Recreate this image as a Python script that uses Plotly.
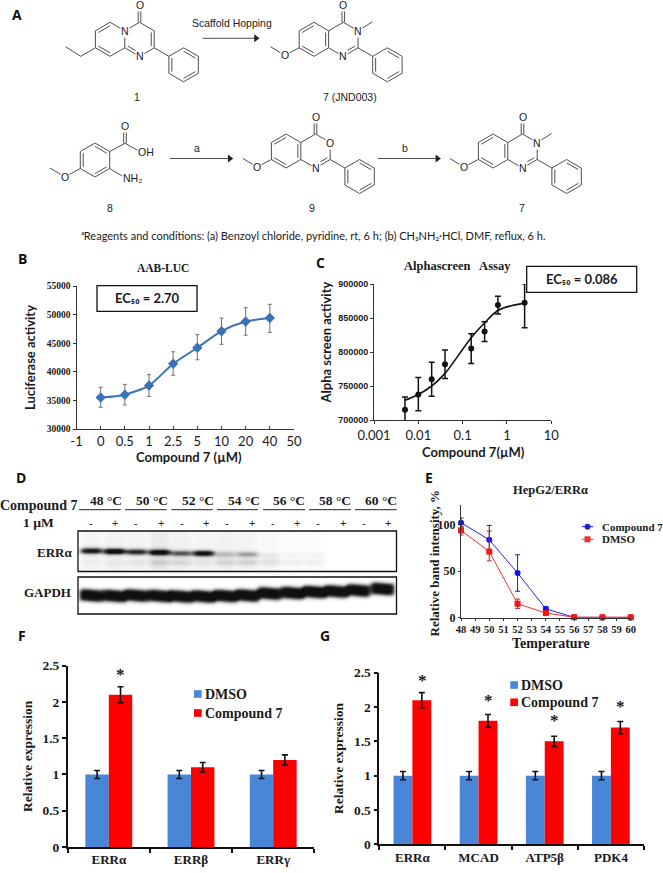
import numpy as np
import plotly.graph_objects as go

W, H = 663, 873
SERIF = "Liberation Serif"
SANS = "Lato"
ARIAL = "Liberation Sans"

# ---------- panel B ----------
B_TICKS = ["-1", "0", "0.5", "1", "2.5", "5", "10", "20", "40", "50"]
B_DOSE = ["0", "0.5", "1", "2.5", "5", "10", "20", "40"]
B_VALUES = [35500, 36000, 37600, 41400, 44200, 47100, 48800, 49400]
B_ERR_UP = [1800, 1800, 1900, 2100, 2300, 2300, 2400, 2400]
B_ERR_DOWN = [1700, 1800, 1900, 2000, 2100, 2300, 2400, 2500]

# ---------- panel C ----------
C_DOSE = [0.005, 0.01, 0.02, 0.04, 0.156, 0.313, 0.625, 2.5]
C_VALUES = [715000, 737500, 760000, 782000, 805000, 830000, 869000, 872500]
C_ERR_UP = [19000, 25000, 25000, 21000, 22000, 14500, 13000, 28000]
C_ERR_DOWN = [19000, 24000, 25000, 21000, 22000, 14500, 13000, 37000]
C_FIT_DOSE = [0.005, 0.01, 0.02, 0.04, 0.08, 0.156, 0.313, 0.625, 1.25, 2.5]
C_FIT = [729000, 737500, 750000, 768600, 795000, 821000, 843000, 861000, 868000, 871500]

# ---------- panel E ----------
E_TEMP = [48, 50, 52, 54, 56, 58, 60]
E_COMPOUND = [102, 83.6, 48, 9.5, 0.4, 0.3, 0.3]
E_COMPOUND_UP = [5, 15.5, 19.6, 2, 0.5, 0.3, 0.3]
E_COMPOUND_DOWN = [4.5, 13, 19.6, 2, 0.4, 0.3, 0.3]
E_DMSO = [93.8, 71, 15, 5, 0.5, 0.5, 0.5]
E_DMSO_UP = [4, 22, 5, 1, 0.5, 0.5, 0.5]
E_DMSO_DOWN = [5, 10, 5, 1, 0.5, 0.5, 0.5]

# ---------- panels F and G ----------
F_GENES = ["ERRα", "ERRβ", "ERRγ"]
F_DMSO = [1, 1, 1]
F_DMSO_ERR = [0.055, 0.055, 0.055]
F_COMPOUND = [2.1, 1.1, 1.2]
F_COMPOUND_ERR = [0.11, 0.065, 0.07]
G_GENES = ["ERRα", "MCAD", "ATP5β", "PDK4"]
G_DMSO = [1, 1, 1, 1]
G_DMSO_ERR = [0.06, 0.06, 0.06, 0.06]
G_COMPOUND = [2.1, 1.8, 1.5, 1.7]
G_COMPOUND_ERR = [0.11, 0.09, 0.075, 0.09]

# ---------- panel D (western blot, relative band darkness per lane) ----------
BLOT_LANES = [91, 114, 136, 159, 180.7, 203, 225, 247, 269, 292, 314, 336, 358, 382]
ERR_MAIN = [.85, 1.0, .75, .95, .55, .9, .22, .32, .07, .03, .03, 0, 0, 0]
ERR_MAIN_Y = [550.5, 551, 551.5, 552, 553, 553, 554, 554, 555, 555, 555, 555, 555, 555]
ERR_LOWER = [.03, .04, .07, .14, .12, .07, .13, .15, .1, .05, .05, 0, 0, 0]
ERR_SMEAR = [.05, .06, .05, .09, .06, .05, .06, .05, .03, .015, .015, 0, 0, 0]
GAPDH_Y = [595, 595.5, 595, 595.5, 596, 596, 595.5, 595, 593, 592.5, 591.5, 591, 590, 588.5]
TEMP_LABELS = ["48 °C", "50 °C", "52 °C", "54 °C", "56 °C", "58 °C", "60 °C"]

BLUE = "#4a86d8"
RED = "#ff0000"
fig = go.Figure()

def dom_x(a, b):
    return [a / W, b / W]

def dom_y(top, bottom):
    return [1 - bottom / H, 1 - top / H]

def text(s, x, y, size=12, family=SERIF, bold=True, anchor="center", angle=0, color="#1a1a1a", bg=None):
    fig.add_annotation(
        x=x, y=y, xref="x6", yref="y6", text=f"<b>{s}</b>" if bold else s, showarrow=False,
        xanchor=anchor, yanchor="middle", textangle=angle, borderpad=0,
        bgcolor=bg, font=dict(size=size, family=family, color=color),
    )

# --- chart traces ---
fig.add_trace(go.Scatter(
    x=B_DOSE, y=B_VALUES, xaxis="x", yaxis="y", mode="lines+markers",
    line=dict(color="#3a72b8", width=2, shape="spline", smoothing=0.7),
    marker=dict(symbol="diamond", size=8, color="#3a72b8"),
    error_y=dict(type="data", symmetric=False, array=B_ERR_UP, arrayminus=B_ERR_DOWN,
                 color="#707070", thickness=1, width=2),
    showlegend=False,
))
fig.add_trace(go.Scatter(
    x=C_FIT_DOSE, y=C_FIT, xaxis="x2", yaxis="y2", mode="lines",
    line=dict(color="#111", width=1.6, shape="spline"), showlegend=False,
))
fig.add_trace(go.Scatter(
    x=C_DOSE, y=C_VALUES, xaxis="x2", yaxis="y2", mode="markers",
    marker=dict(size=6, color="#111"),
    error_y=dict(type="data", symmetric=False, array=C_ERR_UP, arrayminus=C_ERR_DOWN,
                 color="#111", thickness=1.5, width=3),
    showlegend=False,
))
fig.add_trace(go.Scatter(
    x=E_TEMP, y=E_COMPOUND, xaxis="x3", yaxis="y3", mode="lines+markers", cliponaxis=False,
    line=dict(color="#2222dd", width=1), marker=dict(size=6, color="#1414ee"),
    error_y=dict(type="data", symmetric=False, array=E_COMPOUND_UP, arrayminus=E_COMPOUND_DOWN,
                 color="#22229a", thickness=1, width=2.5),
    showlegend=False,
))
fig.add_trace(go.Scatter(
    x=E_TEMP, y=E_DMSO, xaxis="x3", yaxis="y3", mode="lines+markers", cliponaxis=False,
    line=dict(color="#ee3333", width=1), marker=dict(symbol="square", size=6, color="#ff1111"),
    error_y=dict(type="data", symmetric=False, array=E_DMSO_UP, arrayminus=E_DMSO_DOWN,
                 color="#cc2222", thickness=1, width=2.5),
    showlegend=False,
))
for genes, dm, dme, cp, cpe, xa, ya in [
    (F_GENES, F_DMSO, F_DMSO_ERR, F_COMPOUND, F_COMPOUND_ERR, "x4", "y4"),
    (G_GENES, G_DMSO, G_DMSO_ERR, G_COMPOUND, G_COMPOUND_ERR, "x5", "y5"),
]:
    fig.add_trace(go.Bar(x=genes, y=dm, xaxis=xa, yaxis=ya, name="DMSO", marker_color=BLUE, marker_line_width=0,
                         error_y=dict(type="data", array=dme, color="#111", thickness=1.6, width=3), showlegend=False))
    fig.add_trace(go.Bar(x=genes, y=cp, xaxis=xa, yaxis=ya, name="Compound 7", marker_color=RED, marker_line_width=0,
                         error_y=dict(type="data", array=cpe, color="#111", thickness=1.6, width=3), showlegend=False))

# --- western blot as an image on the canvas axes ---
gx = np.arange(78, 397)
gy = np.arange(531, 615)
X, Y = np.meshgrid(gx, gy)
Z = np.zeros_like(X, dtype=float)
for i, c in enumerate(BLOT_LANES):
    lane = np.exp(-((X - c) / 11) ** 4)
    err = (Y < 572)
    Z += err * lane * ERR_SMEAR[i]
    Z += err * lane * ERR_MAIN[i] * np.exp(-((Y - ERR_MAIN_Y[i]) / 3.0) ** 2) * 1.1
    Z += err * lane * ERR_LOWER[i] * np.exp(-((Y - 562) / 3.5) ** 2)
    gap = (Y >= 577)
    wob = 0.5 * np.sin((X - c) / 5.0)
    Z += gap * np.exp(-((X - c) / 12) ** 6) * np.exp(-np.abs((Y - GAPDH_Y[i] - wob) / 6.2) ** 3.2) * 1.1
Z[(Y >= 572) & (Y < 577)] = 0
fig.add_trace(go.Heatmap(
    x=gx, y=gy, z=np.clip(Z, 0, 1), xaxis="x6", yaxis="y6", zmin=0, zmax=1, showscale=False, hoverinfo="skip",
    colorscale=[[0, "#ffffff"], [0.3, "#b8b8b8"], [0.7, "#444444"], [1, "#101010"]],
))

# --- chemical structures ---
BX, BY = [], []

def seg(a, b):
    BX.extend([a[0], b[0], None])
    BY.extend([a[1], b[1], None])

def dbl(a, b, c):
    t = 0.2
    seg((a[0] + (c[0] - a[0]) * t, a[1] + (c[1] - a[1]) * t), (b[0] + (c[0] - b[0]) * t, b[1] + (c[1] - b[1]) * t))

def hexv(cx, cy):
    dx, dy, r = 14.7, 8.5, 17
    return [(cx, cy - r), (cx + dx, cy - dy), (cx + dx, cy + dy), (cx, cy + r), (cx - dx, cy + dy), (cx - dx, cy - dy)]

def ring(v, skip=()):
    for k in range(6):
        if k not in skip:
            seg(v[k], v[(k + 1) % 6])

def phenyl(cx, cy):
    v = hexv(cx, cy)
    ring(v)
    for k in (0, 2, 4):
        dbl(v[k], v[(k + 1) % 6], (cx, cy))
    return v

def fused(cx, cy, kind):
    R, L = hexv(cx, cy), hexv(cx - 29.4, cy)
    ring(R)
    ring(L, skip=(1,))
    rc, lc = (cx, cy), (cx - 29.4, cy)
    dbl(L[0], L[5], lc)
    dbl(L[3], L[4], lc)
    dbl(R[3], R[4] if kind == "pyrido" else R[2], rc)
    if kind == "pyrido":
        dbl(R[1], R[2], rc)
    else:
        dbl(L[1], L[2], lc)
    # carbonyl
    seg((cx - 1.3, cy - 17), (cx - 1.3, cy - 33))
    seg((cx + 1.3, cy - 17), (cx + 1.3, cy - 33))
    text("O", cx, cy - 34.5, 10.5, ARIAL, False, bg="white")
    # phenyl
    seg(R[2], (cx + 29.4, cy + 17))
    phenyl(cx + 44.1, cy + 25.5)
    text("N", cx, cy + 17, 10.5, ARIAL, False, bg="white")
    if kind == "pyrido":
        text("N", R[5][0], R[5][1], 10.5, ARIAL, False, bg="white")
        p = (L[4][0] - 14.7, L[4][1] + 8.5)
        seg(L[4], p)
        seg(p, (p[0] - 15, p[1] - 9.5))
    else:
        o = (L[4][0] - 14.5, L[4][1] + 7.5)
        seg(L[4], o)
        seg(o, (o[0] - 14, o[1] - 8.5))
        text("O", o[0], o[1], 10.5, ARIAL, False, bg="white")
        if kind == "oxazinone":
            text("O", R[1][0], R[1][1], 10.5, ARIAL, False, bg="white")
        else:
            seg(R[1], (R[1][0] + 14.4, R[1][1] - 9))
            text("N", R[1][0], R[1][1], 10.5, ARIAL, False, bg="white")

for cx, cy, kind in [(139.5, 39.3, "pyrido"), (343.3, 39.3, "quinazolinone"),
                     (315.5, 151, "oxazinone"), (522.5, 151, "quinazolinone")]:
    fused(cx, cy, kind)

v8 = hexv(95, 160)
ring(v8)
for k in (0, 2, 4):
    dbl(v8[k], v8[(k + 1) % 6], (95, 160))
seg(v8[4], (65, 177))
seg((65, 177), (50, 168))
seg(v8[1], (125, 143.3))
seg((123.7, 143.3), (123.7, 128))
seg((126.3, 143.3), (126.3, 128))
seg((125, 143.3), (139, 151))
seg(v8[2], (122, 176))

# reaction arrows
ARROWS = [(202.7, 256, 38.3), (170, 229.7, 158.5), (378, 437.4, 158.5)]
for x0, x1, y in ARROWS:
    seg((x0, y), (x1, y))

fig.add_trace(go.Scatter(x=BX, y=BY, xaxis="x6", yaxis="y6", mode="lines", hoverinfo="skip",
                         line=dict(color="#3a3a3a", width=0.9), showlegend=False))
fig.add_trace(go.Scatter(x=[a[1] for a in ARROWS], y=[a[2] for a in ARROWS], xaxis="x6", yaxis="y6", mode="markers",
                         hoverinfo="skip", marker=dict(symbol="triangle-right", size=7, color="#222"), showlegend=False))

text("O", 65, 177, 10.5, ARIAL, False, bg="white")
text("O", 125, 125.5, 10.5, ARIAL, False, bg="white")
text("OH", 146, 151.5, 10.5, ARIAL, False, bg="white")
text("NH₂", 132.5, 178, 10.5, ARIAL, False, bg="white")

for s, x, y in [("1", 136.7, 97.3), ("7 (JND003)", 350, 97.3), ("8", 110, 208), ("9", 312, 208), ("7", 521.5, 208),
                ("Scaffold Hopping", 231.7, 23), ("a", 196.7, 148), ("b", 404.7, 148)]:
    text(s, x, y, 10.5, ARIAL, False)

text("<i>ᵃ</i>Reagents and conditions: (a) Benzoyl chloride, pyridine, rt, 6 h; (b) CH₃NH₂·HCl, DMF, reflux, 6 h.",
     313.5, 235.5, 11, SANS, False)

# --- panel letters ---
for s, x, y in [("A", 17, 14), ("B", 22, 258), ("C", 320, 262), ("D", 21, 477.5), ("E", 429, 477), ("F", 22, 635), ("G", 325, 635)]:
    text(s, x, y, 14, "Open Sans", True, color="#111")

# --- titles and the axis titles that sit off their axis centre ---
text("AAB-LUC", 163, 267.7, 11.5)
text("Alphascreen   Assay", 457.7, 266, 12.5)
text("HepG2/ERRα", 550, 490, 12.5)
text("Compound 7 (µM)", 189, 456.7, 13, SANS)
text("Alpha screen activity", 325, 342.5, 13, SANS, True, angle=-90)
text("Compound 7(µM)", 473, 451.7, 13, SANS)
text("Relative band intensity, %", 433.5, 563, 13, SERIF, True, angle=-90)
text("Temperature", 550.7, 643, 14)

# --- EC50 boxes ---
SHAPES = []
def rect(x0, y0, x1, y1, width=1.3, fill="rgba(0,0,0,0)", color="#111"):
    SHAPES.append(dict(type="rect", xref="x6", yref="y6", x0=x0, x1=x1, y0=y0, y1=y1,
                       line=dict(color=color, width=width), fillcolor=fill, layer="above"))

rect(97, 285.7, 197, 311.3, fill="white")
rect(526.7, 266.3, 636.7, 292.3, fill="white")
text("EC₅₀ = 2.70", 147, 298, 13, SANS)
text("EC₅₀ = 0.086", 581.7, 279, 13, SANS)

# --- blot header ---
rect(78, 531, 396.5, 571.5)
rect(78, 577, 396.5, 614)
text("Compound 7", 38.5, 505.7, 14)
text("1 µM", 38, 522.7, 13.5)
text("ERRα", 72.7, 552.3, 13, anchor="right")
text("GAPDH", 72, 592.7, 13, anchor="right")
for s, c, x0, x1 in zip(TEMP_LABELS, [106, 152, 197.7, 243.7, 289, 335, 380.7],
                        [79, 125, 171.3, 217, 263, 309, 355], [120.7, 166.7, 212.7, 258, 305, 351, 396.7]):
    text(s, c, 500, 13.5)
    SHAPES.append(dict(type="line", xref="x6", yref="y6", x0=x0, x1=x1, y0=509.7, y1=509.7, line=dict(color="#222", width=1)))
for k, x in enumerate([90.7, 115, 136, 160.7, 181.7, 206, 227, 252, 272.7, 297, 318, 343, 364, 388.3]):
    text("+" if k % 2 else "-", x, 522.5, 11, ARIAL, False)

# --- hand placed legends ---
LEGEND_E = [("Compound 7", 526.7, "#2222dd", "circle"), ("DMSO", 539.3, "#ee3333", "square")]
for s, y, col, sym in LEGEND_E:
    SHAPES.append(dict(type="line", xref="x6", yref="y6", x0=581.7, x1=593.3, y0=y, y1=y, line=dict(color=col, width=1)))
    fig.add_trace(go.Scatter(x=[587.5], y=[y], xaxis="x6", yaxis="y6", mode="markers", hoverinfo="skip",
                             marker=dict(symbol=sym, size=6, color=col), showlegend=False))
    text(s, 600.7, y, 11, anchor="left")
for lab, x, y, col, ts in [("DMSO", 194, 694, BLUE, 14), ("Compound 7", 194, 713, RED, 14),
                           ("DMSO", 510.3, 685, BLUE, 14), ("Compound 7", 510.3, 702.3, RED, 14)]:
    SHAPES.append(dict(type="rect", xref="x6", yref="y6", x0=x, x1=x + 7.7, y0=y - 3.8, y1=y + 3.8,
                       fillcolor=col, line=dict(width=0)))
    text(lab, x + 10, y, ts, anchor="left")
for x, y in [(120, 674), (422.3, 680), (488.3, 700.5), (554.3, 720.5), (620.7, 706.5)]:
    text("*", x, y, 17)

# --- layout ---
def tickfont(size, family=SERIF, bold=True):
    return dict(size=size, family=family, color="#1a1a1a", weight=700 if bold else 400)

def title(s, size, family, standoff):
    return dict(text=f"<b>{s}</b>", standoff=standoff, font=dict(size=size, family=family, color="#1a1a1a"))

AX = dict(automargin=False, showgrid=False, zeroline=False, showline=True, linecolor="#333", linewidth=1,
          ticks="outside", tickcolor="#333", ticklen=3)

layout = dict(
    template="none",
    width=W, height=H, margin=dict(l=0, r=0, t=0, b=0, pad=0), autosize=False,
    plot_bgcolor="rgba(0,0,0,0)", paper_bgcolor="white", showlegend=False, hovermode=False,
    barmode="group", bargap=0.43, bargroupgap=0, shapes=SHAPES,
    # B
    xaxis=dict(AX, domain=dom_x(76.5, 294), anchor="y", type="category", categoryorder="array", categoryarray=B_TICKS,
               tickvals=B_TICKS, range=[0, 9], ticks="inside", tickfont=tickfont(13, SANS, False)),
    yaxis=dict(AX, domain=dom_y(286, 429), anchor="x", range=[30000, 55000], dtick=5000, tickformat="d", tickfont=tickfont(9.5),
               title=title("Luciferase activity", 13, SANS, 8)),
    # C
    xaxis2=dict(AX, domain=dom_x(374, 551.3), anchor="y2", type="log", range=[-3, 1],
                tickvals=[0.001, 0.01, 0.1, 1, 10], ticktext=["0.001", "0.01", "0.1", "1", "10"],
                tickfont=tickfont(13, SANS, False)),
    yaxis2=dict(AX, domain=dom_y(284, 420), anchor="x2", range=[700000, 900000], dtick=50000, tickformat="d", tickfont=tickfont(9, ARIAL)),
    # E
    xaxis3=dict(AX, domain=dom_x(461, 630.7), anchor="y3", range=[48, 60], dtick=1, ticklen=2, tickfont=tickfont(10.5)),
    yaxis3=dict(AX, domain=dom_y(505, 617.7), anchor="x3", range=[0, 121], tickvals=[0, 50, 100], ticklen=2, tickfont=tickfont(12)),
    # F
    xaxis4=dict(AX, domain=dom_x(67.7, 314.3), anchor="y4", type="category", tickson="boundaries", ticklen=4, linewidth=1.5,
                linecolor="#111", tickcolor="#111", tickwidth=1.5, range=[-0.5, 2.5], tickfont=tickfont(13)),
    yaxis4=dict(AX, domain=dom_y(665.7, 847), anchor="x4", range=[0, 2.5], dtick=0.5, ticklen=4, linewidth=1.5,
                linecolor="#111", tickcolor="#111", tickwidth=1.5, tickformat="~g", tickfont=tickfont(13.5),
                title=title("Relative expression", 13.5, SERIF, 7)),
    # G
    xaxis5=dict(AX, domain=dom_x(379.3, 644), anchor="y5", type="category", tickson="boundaries", ticklen=4, linewidth=1.5,
                linecolor="#111", tickcolor="#111", tickwidth=1.5, range=[-0.5, 3.5], tickfont=tickfont(13)),
    yaxis5=dict(AX, domain=dom_y(672.7, 844.3), anchor="x5", range=[0, 2.5], dtick=0.5, ticklen=4, linewidth=1.5,
                linecolor="#111", tickcolor="#111", tickwidth=1.5, tickformat="~g", tickfont=tickfont(13.5),
                title=title("Relative expression", 13.5, SERIF, 7)),
    # full page canvas for the drawn structures, blot and labels
    xaxis6=dict(domain=[0, 1], range=[0, W], visible=False, anchor="y6", fixedrange=True, automargin=False),
    yaxis6=dict(domain=[0, 1], range=[H, 0], visible=False, anchor="x6", fixedrange=True, automargin=False),
)
fig.update_layout(**layout)
fig.write_html("out.html", config=dict(displayModeBar=False),
               post_script="document.body.style.margin='0';document.documentElement.style.overflow='hidden';")
